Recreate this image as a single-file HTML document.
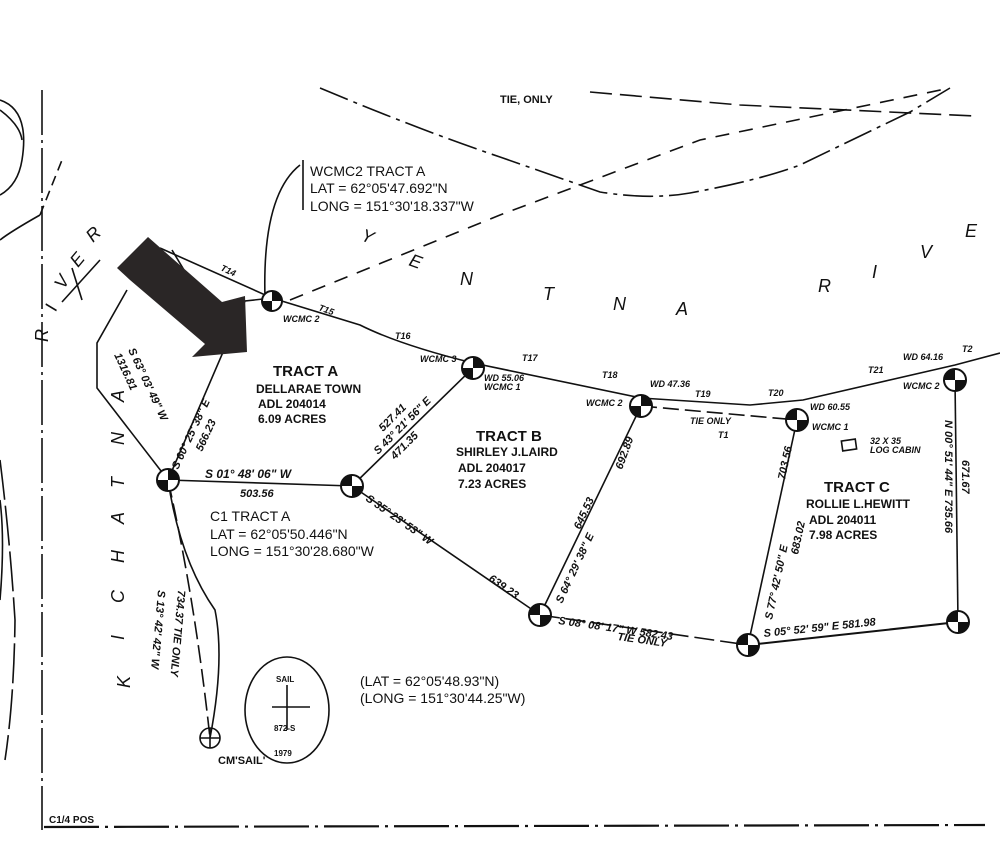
<!DOCTYPE html>
<html><head><style>
html,body{margin:0;padding:0;background:#fff;}
svg{display:block;}
text{font-family:"Liberation Sans",sans-serif;fill:#111;}
</style></head><body>
<svg width="1000" height="855" viewBox="0 0 1000 855" xmlns="http://www.w3.org/2000/svg">
<rect width="1000" height="855" fill="#fff"/>
<g fill="none" stroke="#111" stroke-width="1.6">
<line x1="42" y1="90" x2="42" y2="830" stroke-dasharray="45,5,3,5"/>
<line x1="44" y1="827" x2="985" y2="825" stroke-width="2.2" stroke-dasharray="55,6,3,6"/>
<path d="M320,88 Q420,130 500,157 L600,192 Q650,200 690,193 Q760,180 800,165 L910,112 L950,88" stroke-dasharray="30,6,4,6"/>
<path d="M290,300 L500,215 L700,140 L950,88" stroke-dasharray="14,10"/>
<path d="M590,92 L740,105 L975,116" stroke-dasharray="22,8"/>
<path d="M0,100 Q30,110 22,160 Q18,185 0,195" />
<path d="M0,110 Q20,125 22,140"/>
<path d="M0,240 Q10,232 40,215"/>
<path d="M40,215 L62,160" stroke-dasharray="10,6"/>
<path d="M0,460 Q10,540 15,620 Q14,700 5,760" stroke-dasharray="40,6"/>
<path d="M0,500 Q5,540 0,600"/>
<line x1="62" y1="302" x2="100" y2="260"/>
<line x1="72" y1="268" x2="82" y2="300"/>
<path d="M160,248 L272,298 L360,325 Q400,345 473,363 L641,398 L750,405 L803,400 L955,365 L1000,353"/>
<path d="M127,290 L97,343 L97,388 L168,480"/>
<path d="M168,480 L245,301 L272,298"/>
<line x1="168" y1="480" x2="352" y2="486"/>
<line x1="352" y1="486" x2="473" y2="368"/>
<line x1="352" y1="486" x2="540" y2="615"/>
<line x1="540" y1="615" x2="641" y2="406"/>
<line x1="540" y1="615" x2="748" y2="645" stroke-dasharray="20,6"/>
<line x1="748" y1="645" x2="958" y2="622" stroke-width="2"/>
<line x1="748" y1="645" x2="797" y2="420"/>
<line x1="958" y1="622" x2="955" y2="380"/>
<line x1="641" y1="406" x2="797" y2="420" stroke-dasharray="16,6"/>
<path d="M168,480 Q180,560 215,610 Q225,660 210,738"/>
<path d="M168,480 Q195,600 210,738" stroke-dasharray="18,6"/>
<path d="M300,165 Q262,195 265,298"/>
<line x1="303" y1="160" x2="303" y2="210"/>
<ellipse cx="287" cy="710" rx="42" ry="53"/>
<line x1="287" y1="685" x2="287" y2="730"/>
<line x1="272" y1="707" x2="310" y2="707"/>
<circle cx="210" cy="738" r="10"/>
<line x1="200" y1="738" x2="220" y2="738"/><line x1="210" y1="728" x2="210" y2="748"/>
<line x1="172" y1="250" x2="190" y2="280"/>
<rect x="842" y="440" width="14" height="10" transform="rotate(-8 849 445)"/>
</g>
<g>
<circle cx="272" cy="301" r="10" fill="#fff" stroke="#111" stroke-width="2"/>
<path d="M272,291 A10,10 0 0 1 282,301 L272,301Z M272,311 A10,10 0 0 1 262,301 L272,301Z" fill="#111"/>
<circle cx="168" cy="480" r="11" fill="#fff" stroke="#111" stroke-width="2"/>
<path d="M168,469 A11,11 0 0 1 179,480 L168,480Z M168,491 A11,11 0 0 1 157,480 L168,480Z" fill="#111"/>
<circle cx="352" cy="486" r="11" fill="#fff" stroke="#111" stroke-width="2"/>
<path d="M352,475 A11,11 0 0 0 341,486 L352,486Z M352,497 A11,11 0 0 0 363,486 L352,486Z" fill="#111"/>
<circle cx="473" cy="368" r="11" fill="#fff" stroke="#111" stroke-width="2"/>
<path d="M473,357 A11,11 0 0 1 484,368 L473,368Z M473,379 A11,11 0 0 1 462,368 L473,368Z" fill="#111"/>
<circle cx="641" cy="406" r="11" fill="#fff" stroke="#111" stroke-width="2"/>
<path d="M641,395 A11,11 0 0 1 652,406 L641,406Z M641,417 A11,11 0 0 1 630,406 L641,406Z" fill="#111"/>
<circle cx="540" cy="615" r="11" fill="#fff" stroke="#111" stroke-width="2"/>
<path d="M540,604 A11,11 0 0 0 529,615 L540,615Z M540,626 A11,11 0 0 0 551,615 L540,615Z" fill="#111"/>
<circle cx="748" cy="645" r="11" fill="#fff" stroke="#111" stroke-width="2"/>
<path d="M748,634 A11,11 0 0 0 737,645 L748,645Z M748,656 A11,11 0 0 0 759,645 L748,645Z" fill="#111"/>
<circle cx="797" cy="420" r="11" fill="#fff" stroke="#111" stroke-width="2"/>
<path d="M797,409 A11,11 0 0 0 786,420 L797,420Z M797,431 A11,11 0 0 0 808,420 L797,420Z" fill="#111"/>
<circle cx="955" cy="380" r="11" fill="#fff" stroke="#111" stroke-width="2"/>
<path d="M955,369 A11,11 0 0 0 944,380 L955,380Z M955,391 A11,11 0 0 0 966,380 L955,380Z" fill="#111"/>
<circle cx="958" cy="622" r="11" fill="#fff" stroke="#111" stroke-width="2"/>
<path d="M958,611 A11,11 0 0 0 947,622 L958,622Z M958,633 A11,11 0 0 0 969,622 L958,622Z" fill="#111"/>
</g>
<polygon points="117,268 148,237 222,302 245,296 247,352 192,357 205,344 130,280" fill="#2a2626"/>
<g font-size="14">
<text x="310" y="176">WCMC2 TRACT A</text>
<text x="310" y="193">LAT = 62°05'47.692"N</text>
<text x="310" y="211">LONG = 151°30'18.337"W</text>
<text x="210" y="521">C1 TRACT A</text>
<text x="210" y="539">LAT = 62°05'50.446"N</text>
<text x="210" y="556">LONG = 151°30'28.680"W</text>
<text x="360" y="686">(LAT = 62°05'48.93"N)</text>
<text x="360" y="703">(LONG = 151°30'44.25"W)</text>
</g>
<g font-weight="bold">
<text x="273" y="376" font-size="15">TRACT A</text>
<text x="256" y="393" font-size="12">DELLARAE TOWN</text>
<text x="258" y="408" font-size="12">ADL 204014</text>
<text x="258" y="423" font-size="12">6.09 ACRES</text>
<text x="476" y="441" font-size="15">TRACT B</text>
<text x="456" y="456" font-size="12">SHIRLEY J.LAIRD</text>
<text x="458" y="472" font-size="12">ADL 204017</text>
<text x="458" y="488" font-size="12">7.23 ACRES</text>
<text x="824" y="492" font-size="15">TRACT C</text>
<text x="806" y="508" font-size="12">ROLLIE L.HEWITT</text>
<text x="809" y="524" font-size="12">ADL 204011</text>
<text x="809" y="539" font-size="12">7.98 ACRES</text>
<text x="500" y="103" font-size="11">TIE, ONLY</text>
<text x="49" y="823" font-size="10">C1/4 POS</text>
<text x="218" y="764" font-size="11">CM'SAIL'</text>
<text x="276" y="682" font-size="8">SAIL</text>
<text x="274" y="731" font-size="8">872-S</text>
<text x="274" y="756" font-size="8">1979</text>
</g>
<g font-size="18" font-style="italic">
<text x="360" y="240" transform="rotate(20 360 240)">Y</text>
<text x="408" y="265" transform="rotate(20 408 265)">E</text>
<text x="460" y="285">N</text>
<text x="543" y="300">T</text>
<text x="613" y="310">N</text>
<text x="676" y="315">A</text>
<text x="818" y="292">R</text>
<text x="872" y="278">I</text>
<text x="920" y="258">V</text>
<text x="965" y="237">E</text>
<text x="48" y="342" transform="rotate(-90 48 342)">R</text>
<text x="56" y="312" transform="rotate(-70 56 312)">I</text>
<text x="64" y="290" transform="rotate(-60 64 290)">V</text>
<text x="78" y="268" transform="rotate(-50 78 268)">E</text>
<text x="93" y="243" transform="rotate(-45 93 243)">R</text>
<text x="124" y="402" transform="rotate(-90 124 402)">A</text>
<text x="124" y="445" transform="rotate(-90 124 445)">N</text>
<text x="124" y="488" transform="rotate(-90 124 488)">T</text>
<text x="124" y="524" transform="rotate(-90 124 524)">A</text>
<text x="124" y="563" transform="rotate(-90 124 563)">H</text>
<text x="124" y="603" transform="rotate(-90 124 603)">C</text>
<text x="124" y="640" transform="rotate(-90 124 640)">I</text>
<text x="130" y="688" transform="rotate(-90 130 688)">K</text>
</g>
<g font-size="9" font-weight="bold" font-style="italic">
<text x="283" y="322">WCMC 2</text>
<text x="420" y="362">WCMC 3</text>
<text x="484" y="381">WD 55.06</text>
<text x="484" y="390">WCMC 1</text>
<text x="586" y="406">WCMC 2</text>
<text x="650" y="387">WD 47.36</text>
<text x="810" y="410">WD 60.55</text>
<text x="812" y="430">WCMC 1</text>
<text x="903" y="389">WCMC 2</text>
<text x="903" y="360">WD 64.16</text>
<text x="870" y="444">32 X 35</text>
<text x="870" y="453">LOG CABIN</text>
<text x="690" y="424">TIE ONLY</text>
<text x="718" y="438">T1</text>
<text x="395" y="339">T16</text>
<text x="522" y="361">T17</text>
<text x="602" y="378">T18</text>
<text x="695" y="397">T19</text>
<text x="768" y="396">T20</text>
<text x="868" y="373">T21</text>
<text x="962" y="352">T2</text>
<text x="318" y="310" transform="rotate(20 318 310)">T15</text>
<text x="220" y="270" transform="rotate(25 220 270)">T14</text>
<text x="205" y="478" font-size="12">S 01° 48' 06" W</text>
<text x="240" y="497" font-size="11">503.56</text>
<text x="0" y="0" font-size="11" transform="translate(178,470) rotate(-65)">S 60° 25' 38" E</text>
<text x="0" y="0" font-size="11" transform="translate(202,452) rotate(-65)">566.23</text>
<text x="0" y="0" font-size="11" transform="translate(378,455) rotate(-45)">S 43° 21' 56" E</text>
<text x="0" y="0" font-size="11" transform="translate(383,432) rotate(-45)">527.41</text>
<text x="0" y="0" font-size="11" transform="translate(395,460) rotate(-45)">471.35</text>
<text x="0" y="0" font-size="11" transform="translate(365,500) rotate(35)">S 35° 23' 53" W</text>
<text x="0" y="0" font-size="11" transform="translate(488,580) rotate(35)">639.23</text>
<text x="0" y="0" font-size="11" transform="translate(562,604) rotate(-65)">S 64° 29' 38" E</text>
<text x="0" y="0" font-size="11" transform="translate(580,530) rotate(-65)">645.53</text>
<text x="0" y="0" font-size="11" transform="translate(622,470) rotate(-70)">692.89</text>
<text x="0" y="0" font-size="11" transform="translate(558,624) rotate(8)">S 08° 08' 17" W  582.43</text>
<text x="0" y="0" font-size="11" transform="translate(617,640) rotate(8)">TIE ONLY</text>
<text x="0" y="0" font-size="11" transform="translate(764,637) rotate(-6)">S 05° 52' 59" E  581.98</text>
<text x="0" y="0" font-size="11" transform="translate(772,620) rotate(-78)">S 77° 42' 50" E</text>
<text x="0" y="0" font-size="11" transform="translate(785,480) rotate(-78)">703.56</text>
<text x="0" y="0" font-size="11" transform="translate(798,555) rotate(-78)">683.02</text>
<text x="0" y="0" font-size="11" transform="translate(945,420) rotate(90)">N 00° 51' 44" E  735.66</text>
<text x="0" y="0" font-size="11" transform="translate(962,460) rotate(90)">671.67</text>
<text x="0" y="0" font-size="11" transform="translate(128,350) rotate(65)">S 63° 03' 49" W</text>
<text x="0" y="0" font-size="11" transform="translate(114,355) rotate(65)">1316.81</text>
<text x="0" y="0" font-size="11" transform="translate(158,590) rotate(95)">S 13° 42' 42" W</text>
<text x="0" y="0" font-size="11" transform="translate(178,590) rotate(95)">734.37 TIE ONLY</text>
</g>
</svg>
</body></html>
